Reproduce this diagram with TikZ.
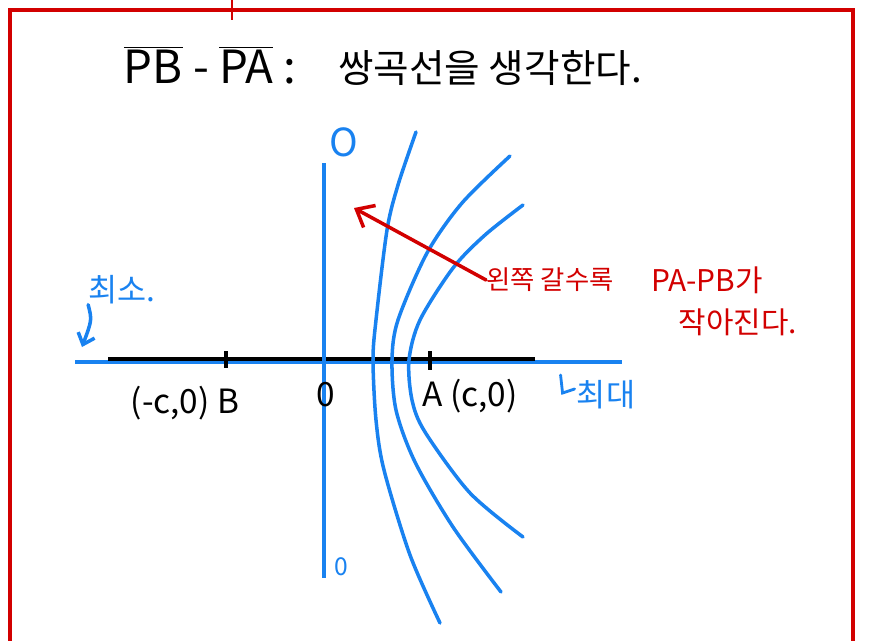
\documentclass[tikz,border=0pt]{standalone}
\usepackage{fontspec}
\setmainfont{Noto Sans CJK KR}
\usetikzlibrary{arrows.meta}

\definecolor{penblue}{RGB}{25,130,240}
\definecolor{penred}{RGB}{210,0,0}

\begin{document}
\begin{tikzpicture}[
  x=0.02cm, y=-0.02cm,
  title/.style={font=\fontsize{26}{30}\selectfont, inner sep=0pt},
  label/.style={font=\fontsize{19}{22}\selectfont, inner sep=0pt},
  note/.style={text=penred, font=\fontsize{17}{20}\selectfont, inner sep=0pt},
  bluenote/.style={text=penblue, font=\fontsize{18}{21}\selectfont, inner sep=0pt},
  curve/.style={penblue, line width=2pt, line cap=round},
  axis/.style={line width=2pt},
  frame/.style={penred, line width=2.2pt},
  arrow/.style={->, line width=2pt, line cap=round, >={Straight Barb[length=3mm,width=5mm]}}
]
\useasboundingbox (0,0) rectangle (869,640);

% Page frame
\draw[frame] (10,650) -- (10,10) -- (853,10) -- (853,650);
\draw[penred, line width=1.4pt] (232,0) -- (232,20);

\node[title] (head) at (210,65) {$\overline{\mbox{PB}}$ - $\overline{\mbox{PA}}$ :};
\node[title, font=\fontsize{22}{26}\selectfont] (idea) at (490,68) {쌍곡선을 생각한다.};

% Axes
\coordinate (xl) at (75,362);
\coordinate (xr) at (622,362);
\coordinate (sl) at (108,359);
\coordinate (sr) at (535,359);
\coordinate (yt) at (324,163);
\coordinate (yb) at (324,578);
\draw[axis, penblue] (xl) -- (xr);
\draw[axis] (sl) -- (sr);
\draw[axis, penblue] (yt) -- (yb);
\draw[axis] (226,351) -- (226,368);
\draw[axis] (430,351) -- (430,370);

\node[label] (B) at (185,403) {(-c,0) B};
\node[label] (O) at (326,395) {0};
\node[label] (A) at (470,396) {A (c,0)};

\node[bluenote, font=\fontsize{22}{24}\selectfont] (top) at (344,142) {O};
\node[bluenote, font=\fontsize{14}{16}\selectfont] (bot) at (341,567) {0};

% Hyperbola branches
\draw[curve] plot[smooth] coordinates {(416,132) (398,185) (387,230) (376,320) (373,360) (376,420) (384,470) (410,555) (440,623)};
\draw[curve] plot[smooth] coordinates {(510,156) (462,203) (427,253) (398,320) (392,360) (396,410) (415,462) (453,527) (501,592)};
\draw[curve] plot[smooth] coordinates {(523,205) (485,235) (453,268) (420,320) (409,360) (412,400) (425,432) (470,493) (523,537)};

% Notes
\node[note, font=\fontsize{15}{18}\selectfont] (left) at (550,280) {왼쪽 갈수록};
\node[note] (diff) at (707,280) {PA-PB가};
\node[note] (small) at (738,322) {작아진다.};
\coordinate (lefttip) at (354,208);
\draw[arrow, penred] (left.west) -- (lefttip);

\node[bluenote] (min) at (122,290) {최소.};
\coordinate (minpt) at (82,347);
\draw[arrow, penblue, >={Straight Barb[length=2mm,width=3.5mm]}] (min.south west) .. controls (92,320) .. (minpt);

\node[bluenote] (max) at (606,395) {최대};
\draw[penblue, line width=1.6pt, line cap=round] (max.west) ++(-16,-20) -- ++(2,18) -- ++(12,-4);

\end{tikzpicture}
\end{document}
